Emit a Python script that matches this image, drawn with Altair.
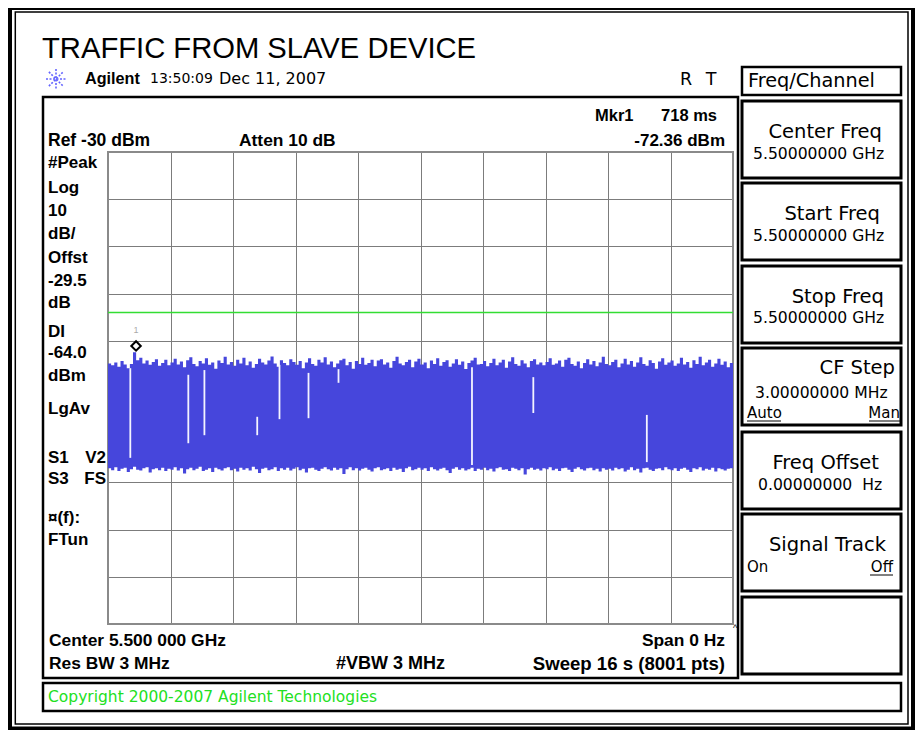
import altair as alt
import pandas as pd

# ---------------- data ----------------
SWEEP_S = 16.0            # Sweep 16 s (zero span, time axis)
REF_DBM = -30.0           # Ref -30 dBm, 10 dB/div, 10 divisions
BOTTOM_DBM = -130.0
DISPLAY_LINE_DBM = -64.0  # DI -64.0 dBm (green line)
MARKER_T = 0.718          # Mkr1 718 ms
MARKER_DBM = -72.36       # -72.36 dBm

# upper envelope of the noise band (dBm), left to right
trace_top = [
    -74.8, -75.2, -74.6, -75.5, -74.3, -75.0, -75.8, -74.9, -72.4, -74.1, -73.6, -74.8, -74.2, -75.1, -74.5, -73.9, -75.3, -74.7, -74.0, -75.2,
    -74.6, -73.8, -75.0, -74.4, -75.6, -74.1, -73.5, -74.9, -75.4, -74.3, -74.8, -73.7, -75.1, -74.6, -75.9, -74.2, -74.7, -73.4, -75.0, -74.5,
    -75.3, -74.0, -74.8, -73.6, -75.2, -74.4, -75.7, -74.9, -73.8, -74.6, -75.0, -74.2, -73.3, -74.8, -75.5, -74.1, -74.7, -75.2, -73.9, -74.5,
    -75.1, -74.3, -75.8, -74.6, -73.7, -74.9, -75.3, -74.0, -74.6, -73.5, -75.0, -74.4, -75.6, -74.8, -74.1, -73.8, -75.2, -74.5, -75.9, -74.3,
    -74.9, -73.6, -75.1, -74.7, -74.0, -75.4, -74.2, -73.9, -75.0, -74.6, -75.7, -74.3, -73.4, -74.8, -75.2, -74.5, -74.0, -75.6, -74.4, -73.8,
    -75.0, -74.6, -75.8, -74.2, -74.9, -73.7, -75.3, -74.5, -74.1, -75.5, -74.8, -73.9, -75.1, -74.4, -76.0, -74.7, -74.2, -73.6, -75.0, -74.9,
    -74.3, -75.4, -74.7, -73.8, -75.2, -74.6, -74.0, -75.7, -74.4, -73.5, -74.9, -75.3, -74.1, -74.8, -75.6, -74.3, -73.9, -75.0, -74.6, -75.2,
    -74.5, -73.7, -75.1, -74.8, -74.2, -75.5, -74.0, -73.6, -74.9, -75.3, -74.4, -75.8, -74.7, -73.9, -75.0, -74.3, -75.4, -74.6, -73.4, -74.9,
    -75.2, -74.5, -74.0, -75.6, -74.8, -73.8, -75.0, -74.3, -75.5, -74.6, -73.5, -74.9, -75.3, -74.1, -74.7, -75.9, -74.4, -73.7, -75.1, -74.6,
    -74.2, -75.3, -74.8, -73.6, -75.0, -74.5, -75.7, -74.1, -74.9, -73.4, -75.2, -74.6, -74.0, -75.5, -74.8, -73.8, -75.1, -74.4, -75.6, -74.7,
]
# lower envelope of the noise band (dBm)
trace_bottom = [
    -97.0, -97.4, -96.8, -97.6, -97.1, -96.9, -97.8, -97.2, -96.7, -97.3, -97.5, -97.0, -96.8, -97.9, -97.2, -97.0, -97.4, -96.9, -97.6, -97.1,
    -97.3, -96.8, -97.5, -97.0, -98.1, -97.2, -96.9, -97.4, -97.1, -96.7, -97.6, -97.3, -97.0, -97.8, -96.9, -97.2, -97.5, -97.0, -96.8, -97.4,
    -97.1, -97.7, -96.9, -97.3, -97.0, -97.5, -96.7, -97.2, -98.0, -97.1, -96.9, -97.4, -97.2, -96.8, -97.6, -97.0, -97.3, -96.9, -97.5, -97.1,
    -96.8, -97.4, -97.1, -97.9, -97.0, -96.9, -97.3, -97.6, -97.1, -96.8, -97.2, -97.5, -96.9, -97.3, -97.0, -98.2, -97.2, -96.8, -97.4, -97.0,
    -97.5, -97.1, -96.9, -97.3, -97.7, -97.0, -96.8, -97.4, -97.2, -97.0, -97.6, -96.9, -97.3, -97.1, -97.8, -97.0, -96.7, -97.4, -97.2, -96.9,
    -97.3, -97.0, -97.6, -96.8, -97.2, -97.5, -97.1, -96.9, -97.4, -98.0, -97.1, -96.8, -97.3, -97.0, -97.5, -97.2, -96.9, -97.6, -97.1, -97.3,
    -96.9, -97.4, -97.1, -97.7, -97.0, -96.8, -97.3, -97.2, -97.6, -96.9, -97.1, -97.4, -97.0, -98.3, -97.2, -96.9, -97.3, -97.1, -97.5, -97.0,
    -97.2, -96.8, -97.4, -97.1, -97.6, -97.0, -96.9, -97.3, -97.8, -97.1, -96.8, -97.2, -97.5, -97.0, -96.9, -97.4, -97.1, -97.7, -97.0, -97.3,
    -97.1, -97.5, -96.9, -97.2, -97.0, -97.7, -97.3, -96.8, -97.4, -97.1, -97.9, -97.0, -96.9, -97.3, -97.6, -97.1, -97.0, -97.4, -96.8, -97.2,
    -97.4, -97.0, -97.6, -97.1, -96.9, -97.3, -97.8, -97.0, -97.2, -96.8, -97.5, -97.1, -97.3, -96.9, -97.7, -97.0, -97.2, -97.5, -97.1, -97.0,
]
# white drop-out lines inside the band: time (s), top and bottom (dBm)
gap_t = [0.571, 2.056, 2.468, 3.820, 4.390, 5.133, 5.901, 9.318, 10.888, 13.794]
gap_hi = [-75.8, -77.2, -76.2, -86.1, -75.1, -76.8, -76.0, -75.6, -77.7, -85.7]
gap_lo = [-94.8, -91.7, -90.0, -90.0, -86.6, -86.4, -78.9, -96.3, -85.3, -95.7]

x_grid = [0, 1.6, 3.2, 4.8, 6.4, 8.0, 9.6, 11.2, 12.8, 14.4, 16.0]
y_grid = [-130, -120, -110, -100, -90, -80, -70, -60, -50, -40, -30]

# ---------------- tables ----------------
n = len(trace_top)
trace_df = pd.DataFrame({
    "t": [i * SWEEP_S / n for i in range(n)] + [SWEEP_S],
    "top": trace_top + [trace_top[-1]],
    "bottom": trace_bottom + [trace_bottom[-1]],
})
gap_df = pd.DataFrame({"t": gap_t, "hi": gap_hi, "lo": gap_lo})
marker_df = pd.DataFrame({"t": [MARKER_T], "v": [MARKER_DBM]})
dl_df = pd.DataFrame({"v": [DISPLAY_LINE_DBM]})

# ---------------- layout (page pixels) ----------------
OX, OY = 108, 152          # top-left of the graticule on the page
W, H = 625, 472
PAGE_W, PAGE_H = 915, 730  # last drawable page pixel (8px body margin)

xs = alt.Scale(domain=[0, SWEEP_S], nice=False, zero=False)
ys = alt.Scale(domain=[BOTTOM_DBM, REF_DBM], nice=False, zero=False)
x_axis = alt.Axis(values=x_grid, grid=True, gridColor="#7c7c7c", gridWidth=1,
                  labels=False, ticks=False, domain=False, title="")
y_axis = alt.Axis(values=y_grid, grid=True, gridColor="#7c7c7c", gridWidth=1,
                  labels=False, ticks=False, domain=False, title="")

base = alt.Chart(pd.DataFrame({"k": [0]}))

SANS = "Liberation Sans"
DJV = "DejaVu Sans"


def txt(s, X, Y, size, font=DJV, weight="normal", align="left", color="black"):
    return base.mark_text(text=s, font=font, fontSize=size, fontWeight=weight,
                          align=align, baseline="middle", color=color).encode(
        x=alt.value(X - OX), y=alt.value(Y - OY))


def box(X1, Y1, X2, Y2, sw=3, stroke="black", fill="transparent"):
    return base.mark_rect(fill=fill, stroke=stroke, strokeWidth=sw).encode(
        x=alt.value(X1 - OX), x2=alt.value(X2 - OX),
        y=alt.value(Y1 - OY), y2=alt.value(Y2 - OY))


def bar(X1, Y1, X2, Y2, color="black"):
    return base.mark_rect(fill=color, strokeWidth=0).encode(
        x=alt.value(X1 - OX), x2=alt.value(X2 - OX),
        y=alt.value(Y1 - OY), y2=alt.value(Y2 - OY))


def seg(X1, Y1, X2, Y2, color="black", sw=1, dash=None):
    kw = dict(color=color, strokeWidth=sw)
    if dash:
        kw["strokeDash"] = dash
    return base.mark_rule(**kw).encode(
        x=alt.value(X1 - OX), x2=alt.value(X2 - OX),
        y=alt.value(Y1 - OY), y2=alt.value(Y2 - OY))


layers = []
# outer frame (thick black band + thin inner line)
layers += [bar(7, 3, 12, PAGE_H), bar(7, 3, PAGE_W, 10),
           bar(PAGE_W - 4, 3, PAGE_W, PAGE_H), bar(7, PAGE_H - 3.5, PAGE_W, PAGE_H)]
layers.append(box(15.3, 12, PAGE_W - 7, PAGE_H - 6, sw=1.5))

# title and header
layers.append(txt("TRAFFIC FROM SLAVE DEVICE", 42, 49, 29.2, font=SANS))
cx, cy, r = 56, 79, 10
for dx, dy in [(r, 0), (0, r), (0.71 * r, 0.71 * r), (0.71 * r, -0.71 * r)]:
    layers.append(seg(cx - dx, cy - dy, cx + dx, cy + dy, "#6464ff", 1.6, [2, 1.5]))
layers.append(txt("Agilent", 85, 79, 16.2, font=SANS, weight="bold"))
layers.append(txt("13:50:09", 150, 79, 14))
layers.append(txt("Dec 11, 2007", 219, 79, 16))
layers.append(txt("R", 686, 80, 17.5, align="center"))
layers.append(txt("T", 711, 80, 17.5, align="center"))

# main display box and copyright box
layers.append(box(43, 97, 738, 678, sw=2.5))
layers.append(box(43, 683, 901, 711, sw=2.5))
layers.append(txt("Copyright 2000-2007 Agilent Technologies", 48, 697, 15.5, color="#22e022"))

# soft keys
layers.append(box(742, 67, 901, 95, sw=2.5))
layers.append(txt("Freq/Channel", 748, 81, 19.3))
for top in [101, 183, 266, 348, 432, 514, 597]:
    layers.append(box(742, top, 901, top + 77, sw=3))
for s, xr, y in [("Center Freq", 882, 132), ("Start Freq", 880, 214), ("Stop Freq", 884, 297),
                 ("CF Step", 895, 368), ("Freq Offset", 879, 463), ("Signal Track", 886, 545)]:
    layers.append(txt(s, xr, y, 19.5, align="right"))
for s, xl, y in [("5.50000000 GHz", 753, 154), ("5.50000000 GHz", 753, 236),
                 ("5.50000000 GHz", 753, 318), ("3.00000000 MHz", 755, 393),
                 ("0.00000000\u00a0 Hz", 758, 485)]:
    layers.append(txt(s, xl, y, 15.6))
layers.append(txt("Auto", 747, 413, 15))
layers.append(seg(747, 421, 781, 421, "black", 1))
layers.append(txt("Man", 900, 413, 15, align="right"))
layers.append(seg(869, 421, 900, 421, "black", 1))
layers.append(txt("On", 747, 567, 15))
layers.append(txt("Off", 893, 567, 15, align="right"))
layers.append(seg(870, 575, 893, 575, "black", 1))

# annotations around the graticule
B = dict(font=SANS, weight="bold")
layers.append(txt("Mkr1", 595, 116, 16.5, **B))
layers.append(txt("718 ms", 717, 116, 16.5, align="right", **B))
layers.append(txt("Ref -30 dBm", 48, 141, 17.5, **B))
layers.append(txt("Atten 10 dB", 239, 141, 17.4, **B))
layers.append(txt("-72.36 dBm", 725, 141, 17, align="right", **B))
for s, y in [("#Peak", 163), ("Log", 188), ("10", 211), ("dB/", 234), ("Offst", 258),
             ("-29.5", 281), ("dB", 303), ("DI", 332), ("-64.0", 353), ("dBm", 376),
             ("LgAv", 409), ("S1", 458), ("S3", 479), ("\u00a4(f):", 518), ("FTun", 540)]:
    layers.append(txt(s, 48, y, 17, **B))
layers.append(txt("V2", 106, 458, 17, align="right", **B))
layers.append(txt("FS", 106, 479, 17, align="right", **B))
layers.append(txt("Center 5.500 000 GHz", 49, 641, 17.4, **B))
layers.append(txt("Span 0 Hz", 725, 641, 17.4, align="right", **B))
layers.append(txt("^", 733, 628, 9, font=SANS))
layers.append(txt("Res BW 3 MHz", 49, 664, 17.4, **B))
layers.append(txt("#VBW 3 MHz", 336, 664, 18, **B))
layers.append(txt("Sweep 16 s (8001 pts)", 725, 664, 18.6, align="right", **B))

# graticule border
layers.append(box(OX, OY, OX + W, OY + H, sw=2, stroke="#8a8a8a"))

# trace band
band = alt.Chart(trace_df).mark_area(interpolate="step-after", color="#4646dc").encode(
    x=alt.X("t:Q", scale=xs, axis=x_axis),
    y=alt.Y("top:Q", scale=ys, axis=y_axis),
    y2="bottom:Q",
)
gaps = alt.Chart(gap_df).mark_rule(color="#f4f4ff", strokeWidth=1.8).encode(
    x=alt.X("t:Q", scale=xs), y=alt.Y("hi:Q", scale=ys), y2="lo:Q")
dline = alt.Chart(dl_df).mark_rule(color="#33dd33", strokeWidth=1.5).encode(
    y=alt.Y("v:Q", scale=ys))
marker = alt.Chart(marker_df).mark_point(shape="diamond", size=90, filled=False, color="black",
                                         strokeWidth=2, yOffset=-6, opacity=1).encode(
    x=alt.X("t:Q", scale=xs), y=alt.Y("v:Q", scale=ys))
mlabel = alt.Chart(marker_df).mark_text(text="1", color="#aaaaaa", fontSize=9, yOffset=-22,
                                        font=SANS).encode(
    x=alt.X("t:Q", scale=xs), y=alt.Y("v:Q", scale=ys))

layers += [band, gaps, dline, marker, mlabel]

chart = alt.layer(*layers).properties(
    width=W, height=H,
    padding={"left": OX - 8, "top": OY - 8, "right": PAGE_W - OX - W, "bottom": PAGE_H - OY - H},
    autosize="none",
    background="white",
).configure_view(strokeWidth=0)

chart.save("out.html", embed_options={"renderer": "svg", "actions": False})
